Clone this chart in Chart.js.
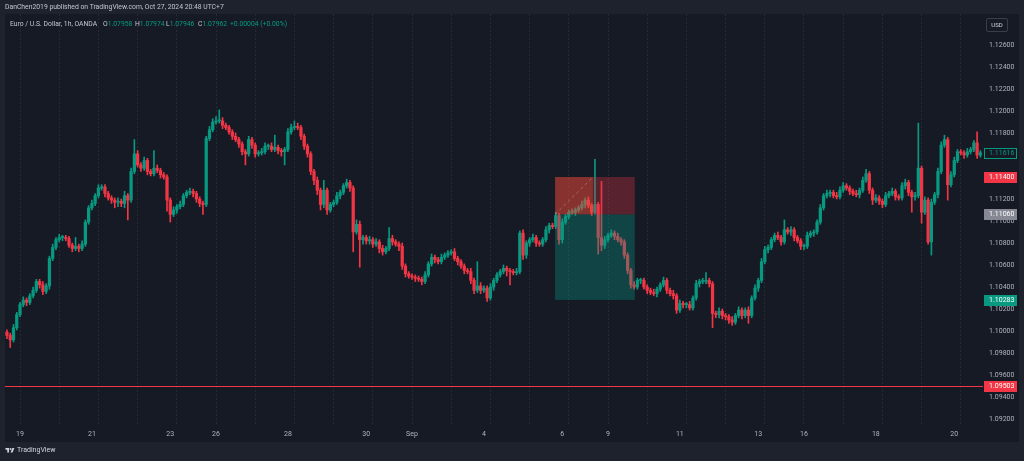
<!DOCTYPE html>
<html>
<head>
<meta charset="utf-8">
<title>EUR/USD 1h</title>
<script src="https://cdn.jsdelivr.net/npm/chart.js@4.4.1/dist/chart.umd.min.js"></script>
<style>
  html, body { margin: 0; padding: 0; background: #1e222d; }
  .frame { position: relative; width: 1024px; height: 461px; overflow: hidden; font-family: Roboto, "Noto Sans", sans-serif; }
  #chart { position: absolute; left: 0; top: 0; }
  .label { position: absolute; white-space: nowrap; line-height: 1; }
  .publisher { left: 5px; top: 4px; font-size: 6.8px; color: #c3c6ce; }
  .legend { top: 21px; font-size: 6.8px; color: #c3c6ce; }
  .legend b { font-weight: normal; color: #089981; }
  .currency { left: 986px; top: 18px; width: 20px; height: 12px; border: 1px solid #3a3e4a; border-radius: 2px; font-size: 6px; color: #d1d4dc; text-align: center; line-height: 12px; }
  .brand { left: 5px; top: 447px; font-size: 7px; color: #d1d4dc; display: flex; align-items: center; gap: 2px; }
</style>
</head>
<body>
<div class="frame">
  <canvas id="chart" width="1024" height="461"></canvas>
  <div class="label publisher">DanChen2019 published on TradingView.com, Oct 27, 2024 20:48 UTC+7</div>
  <div class="label legend" style="left:10px">Euro / U.S. Dollar, 1h, OANDA</div>
  <div class="label legend" style="left:103px">O<b>1.07958</b></div>
  <div class="label legend" style="left:135px">H<b>1.07974</b></div>
  <div class="label legend" style="left:166px">L<b>1.07946</b></div>
  <div class="label legend" style="left:198px">C<b>1.07962</b></div>
  <div class="label legend" style="left:230px"><b>+0.00004 (+0.00%)</b></div>
  <div class="label currency">USD</div>
  <div class="label brand">
    <svg width="10" height="7" viewBox="0 0 36 28"><path d="M14 22H7V11H0V4h14v18z" fill="#d1d4dc"/><circle cx="20" cy="8" r="4" fill="#d1d4dc"/><path d="M28 22h-8l7.5-18h8L28 22z" fill="#d1d4dc"/></svg>
    <span>TradingView</span>
  </div>
</div>
<script>
const upColor = '#089981';
const downColor = '#f23645';
const pip = 0.0001;

// 2h candles, index 0 = start of the "19" session, 12 candles per trading day
const firstOpen = 1.0999;
const startIndex = -4;

const closes = [
  1.0996, 1.0992, 1.1003, 1.1015,
  1.1024, 1.1028, 1.1026, 1.1032, 1.1037, 1.1045, 1.1042, 1.1036, 1.1041, 1.1066, 1.1076, 1.1083,
  1.1085, 1.1085, 1.1084, 1.1078, 1.1075, 1.1077, 1.1075, 1.1079, 1.1099, 1.1112, 1.1116, 1.1123,
  1.1130, 1.1131, 1.1125, 1.1121, 1.1119, 1.1117, 1.1118, 1.1116, 1.1123, 1.1119, 1.1145, 1.1161,
  1.1151, 1.1148, 1.1155, 1.1145, 1.1143, 1.1148, 1.1146, 1.1142, 1.1140, 1.1119, 1.1106, 1.1110,
  1.1113, 1.1115, 1.1123, 1.1126, 1.1127, 1.1125, 1.1120, 1.1116, 1.1115, 1.1175, 1.1183, 1.1190,
  1.1191, 1.1191, 1.1187, 1.1185, 1.1181, 1.1177, 1.1174, 1.1170, 1.1163, 1.1161, 1.1174, 1.1169,
  1.1161, 1.1162, 1.1163, 1.1168, 1.1168, 1.1165, 1.1167, 1.1164, 1.1163, 1.1165, 1.1181, 1.1185,
  1.1186, 1.1185, 1.1177, 1.1168, 1.1161, 1.1145, 1.1137, 1.1128, 1.1115, 1.1128, 1.1110, 1.1115,
  1.1117, 1.1123, 1.1126, 1.1132, 1.1135, 1.1130, 1.1090, 1.1097, 1.1083, 1.1085, 1.1082, 1.1083,
  1.1079, 1.1081, 1.1075, 1.1072, 1.1075, 1.1084, 1.1081, 1.1079, 1.1077, 1.1059, 1.1052, 1.1050,
  1.1049, 1.1048, 1.1047, 1.1045, 1.1051, 1.1061, 1.1067, 1.1065, 1.1063, 1.1067, 1.1069, 1.1071,
  1.1072, 1.1066, 1.1063, 1.1059, 1.1055, 1.1054, 1.1046, 1.1037, 1.1041, 1.1037, 1.1039, 1.1030,
  1.1040, 1.1046, 1.1051, 1.1054, 1.1057, 1.1055, 1.1054, 1.1053, 1.1054, 1.1089, 1.1069, 1.1080,
  1.1083, 1.1085, 1.1080, 1.1079, 1.1083, 1.1092, 1.1096, 1.1095, 1.1105, 1.1083, 1.1099, 1.1104,
  1.1108, 1.1108, 1.1110, 1.1112, 1.1115, 1.1119, 1.1114, 1.1108, 1.1115, 1.1085, 1.1078, 1.1083,
  1.1087, 1.1089, 1.1086, 1.1083, 1.1081, 1.1069, 1.1055, 1.1042, 1.1040, 1.1046, 1.1046, 1.1040,
  1.1037, 1.1035, 1.1034, 1.1038, 1.1042, 1.1046, 1.1037, 1.1034, 1.1032, 1.1019, 1.1025, 1.1024,
  1.1024, 1.1021, 1.1030, 1.1043, 1.1045, 1.1045, 1.1046, 1.1043, 1.1016, 1.1015, 1.1018, 1.1014,
  1.1013, 1.1010, 1.1008, 1.1014, 1.1019, 1.1014, 1.1019, 1.1014, 1.1030, 1.1039, 1.1046, 1.1063,
  1.1074, 1.1076, 1.1083, 1.1087, 1.1085, 1.1081, 1.1092, 1.1090, 1.1092, 1.1085, 1.1082, 1.1077,
  1.1077, 1.1087, 1.1089, 1.1090, 1.1099, 1.1112, 1.1123, 1.1125, 1.1126, 1.1123, 1.1122, 1.1128,
  1.1132, 1.1130, 1.1127, 1.1125, 1.1124, 1.1128, 1.1137, 1.1143, 1.1128, 1.1119, 1.1121, 1.1118,
  1.1115, 1.1123, 1.1125, 1.1127, 1.1122, 1.1121, 1.1132, 1.1135, 1.1126, 1.1122, 1.1123, 1.1148,
  1.1108, 1.1119, 1.1081, 1.1117, 1.1124, 1.1145, 1.1169, 1.1174, 1.1133, 1.1142, 1.1155, 1.1163,
  1.1162, 1.1160, 1.1163, 1.1165, 1.1171, 1.1160, 1.1162
];

// wick lengths in pips above / below the body
const upWick = [
  2, 2, 3, 2,
  2, 3, 2, 2, 3, 2, 2, 3, 2, 2, 3, 2,
  3, 2, 2, 2, 2, 8, 2, 3, 2, 2, 3, 2,
  3, 2, 2, 2, 2, 2, 3, 2, 4, 2, 3, 13,
  3, 2, 3, 2, 2, 16, 3, 2, 2, 2, 2, 3,
  2, 3, 2, 2, 3, 2, 2, 2, 2, 2, 3, 3,
  4, 10, 3, 2, 2, 2, 3, 2, 2, 2, 3, 2,
  2, 2, 3, 3, 2, 3, 11, 2, 2, 2, 3, 3,
  5, 3, 2, 2, 2, 2, 2, 3, 2, 9, 2, 2,
  2, 3, 2, 2, 3, 2, 2, 4, 3, 2, 2, 3,
  2, 3, 2, 3, 2, 10, 3, 2, 2, 3, 2, 2,
  2, 2, 2, 2, 3, 2, 3, 2, 2, 3, 2, 2,
  2, 3, 2, 2, 2, 2, 3, 2, 22, 3, 2, 2,
  3, 2, 2, 2, 3, 2, 2, 2, 3, 2, 3, 2,
  2, 3, 2, 2, 2, 3, 2, 2, 3, 2, 3, 2,
  2, 3, 2, 2, 3, 2, 3, 2, 41, 2, 51, 3,
  2, 3, 2, 3, 2, 2, 2, 2, 3, 2, 2, 2,
  2, 2, 3, 2, 2, 3, 2, 2, 3, 2, 3, 2,
  2, 3, 2, 3, 2, 3, 7, 2, 2, 2, 3, 2,
  2, 2, 3, 2, 3, 2, 2, 3, 2, 3, 2, 3,
  3, 2, 2, 2, 3, 2, 9, 2, 3, 2, 2, 2,
  2, 3, 2, 2, 2, 3, 2, 3, 2, 2, 3, 3,
  3, 2, 2, 2, 3, 2, 3, 4, 2, 2, 3, 2,
  2, 3, 2, 3, 2, 2, 3, 3, 2, 2, 3, 41,
  2, 3, 2, 3, 2, 3, 3, 4, 2, 3, 3, 2,
  2, 2, 3, 2, 2, 10, 2
];

const downWick = [
  3, 7, 2, 2,
  2, 2, 3, 2, 2, 2, 3, 3, 2, 3, 2, 2,
  2, 3, 2, 2, 3, 2, 3, 2, 2, 2, 2, 2,
  2, 2, 3, 2, 3, 5, 4, 3, 4, 18, 2, 2,
  2, 3, 2, 3, 2, 2, 2, 3, 2, 10, 7, 2,
  3, 2, 2, 2, 2, 3, 3, 3, 9, 2, 2, 2,
  2, 2, 3, 2, 2, 3, 2, 3, 3, 10, 2, 3,
  3, 2, 2, 2, 3, 2, 2, 3, 4, 12, 2, 2,
  2, 2, 3, 3, 3, 3, 4, 4, 5, 3, 4, 2,
  2, 2, 3, 2, 2, 3, 18, 2, 25, 4, 3, 3,
  3, 2, 4, 3, 2, 2, 3, 2, 4, 3, 3, 2,
  2, 3, 2, 3, 2, 2, 2, 3, 2, 2, 2, 2,
  2, 2, 3, 2, 3, 2, 3, 3, 2, 3, 2, 3,
  2, 3, 2, 2, 2, 5, 12, 2, 2, 2, 4, 3,
  3, 2, 3, 2, 2, 2, 3, 2, 2, 4, 3, 2,
  2, 2, 3, 2, 2, 3, 2, 3, 2, 15, 5, 3,
  2, 2, 3, 2, 3, 3, 3, 3, 2, 2, 3, 2,
  3, 2, 2, 3, 2, 2, 3, 2, 3, 3, 2, 3,
  3, 2, 2, 2, 3, 2, 2, 3, 13, 3, 3, 3,
  3, 3, 3, 2, 2, 3, 2, 7, 2, 2, 3, 2,
  2, 3, 2, 2, 2, 3, 2, 2, 3, 3, 2, 3,
  3, 2, 2, 3, 2, 2, 2, 2, 3, 2, 2, 2,
  2, 2, 3, 2, 2, 3, 2, 2, 3, 4, 2, 3,
  3, 2, 2, 2, 3, 2, 2, 3, 3, 14, 3, 2,
  10, 2, 2, 12, 2, 3, 2, 2, 14, 2, 2, 2,
  2, 3, 2, 2, 2, 3, 2
];

const dayGrid = [0, 12, 24, 36, 48, 60, 72, 84, 96, 108, 120, 132, 144, 156, 168, 180, 192, 204, 216, 228, 240, 252, 264, 276, 288];
const dateTicks = [0, 22, 46, 60, 82, 106, 120, 142, 166, 180, 202, 226, 240, 262, 286];
const dateLabels = ['19', '21', '23', '26', '28', '30', 'Sep', '4', '6', '9', '11', '13', '16', '18', '20'];
const priceTicks = [1.092, 1.094, 1.096, 1.098, 1.100, 1.102, 1.104, 1.106, 1.108, 1.110, 1.112, 1.114, 1.116, 1.118, 1.120, 1.122, 1.124, 1.126];

const lastPrice = 1.11616;
const entryPrice = 1.1106;
const stopPrice = 1.114;
const targetPrice = 1.10283;
const alertPrice = 1.09503;
const positionStart = 163.8;
const positionTouch = 175.4;
const positionEnd = 188.2;

const opens = closes.map((c, i) => (i === 0 ? firstOpen : closes[i - 1]));
const highs = closes.map((c, i) => Math.max(opens[i], c) + upWick[i] * pip);
const lows = closes.map((c, i) => Math.min(opens[i], c) - downWick[i] * pip);
const candleColors = closes.map((c, i) => (c >= opens[i] ? upColor : downColor));

const wickData = closes.map((c, i) => ({ x: startIndex + i, y: [lows[i], highs[i]] }));
const bodyData = closes.map((c, i) => ({ x: startIndex + i, y: [opens[i], c] }));

const paneBackground = {
  id: 'paneBackground',
  beforeDraw(chart) {
    const ctx = chart.ctx;
    ctx.save();
    ctx.fillStyle = '#1e222d';
    ctx.fillRect(0, 0, chart.width, chart.height);
    ctx.fillStyle = '#161a25';
    ctx.fillRect(5, 14, 1014, 428);
    ctx.restore();
  }
};

const positionTool = {
  id: 'positionTool',
  afterDatasetsDraw(chart) {
    const { ctx, chartArea, scales: { x, y } } = chart;
    const x0 = x.getPixelForValue(positionStart);
    const x1 = x.getPixelForValue(positionTouch);
    const x2 = x.getPixelForValue(positionEnd);
    const yStop = y.getPixelForValue(stopPrice);
    const yEntry = y.getPixelForValue(entryPrice);
    const yTarget = y.getPixelForValue(targetPrice);
    ctx.save();
    ctx.fillStyle = 'rgba(240, 72, 58, 0.52)';
    ctx.fillRect(x0, yStop, x1 - x0, yEntry - yStop);
    ctx.fillStyle = 'rgba(242, 54, 69, 0.3)';
    ctx.fillRect(x1, yStop, x2 - x1, yEntry - yStop);
    ctx.fillStyle = 'rgba(8, 153, 129, 0.35)';
    ctx.fillRect(x0, yEntry, x2 - x0, yTarget - yEntry);
    ctx.setLineDash([3, 3]);
    ctx.lineWidth = 1;
    ctx.strokeStyle = 'rgba(180, 180, 190, 0.45)';
    ctx.beginPath();
    ctx.moveTo(x0, yEntry);
    ctx.lineTo(x1, yStop);
    ctx.stroke();
    ctx.setLineDash([]);
    const yAlert = Math.round(y.getPixelForValue(alertPrice)) + 0.5;
    ctx.strokeStyle = downColor;
    ctx.beginPath();
    ctx.moveTo(chartArea.left, yAlert);
    ctx.lineTo(chartArea.right, yAlert);
    ctx.stroke();
    ctx.restore();
  }
};

const priceTags = {
  id: 'priceTags',
  afterDraw(chart) {
    const { ctx, chartArea, scales: { y } } = chart;
    const tags = [
      { price: lastPrice, fill: '#161a25', border: upColor, text: upColor },
      { price: stopPrice, fill: downColor, text: '#ffffff' },
      { price: entryPrice, fill: '#868993', text: '#ffffff' },
      { price: targetPrice, fill: upColor, text: '#ffffff' },
      { price: alertPrice, fill: downColor, text: '#ffffff' }
    ];
    ctx.save();
    ctx.font = '7px Roboto';
    ctx.textAlign = 'left';
    ctx.textBaseline = 'middle';
    tags.forEach(t => {
      const cy = Math.round(y.getPixelForValue(t.price));
      const left = chartArea.right + 1;
      ctx.fillStyle = t.fill;
      ctx.fillRect(left, cy - 5, 33, 11);
      if (t.border) {
        ctx.strokeStyle = t.border;
        ctx.lineWidth = 1;
        ctx.strokeRect(left + 0.5, cy - 4.5, 32, 10);
      }
      ctx.fillStyle = t.text;
      ctx.fillText(t.price.toFixed(5), left + 5, cy + 0.5);
    });
    ctx.restore();
  }
};

new Chart(document.getElementById('chart'), {
  type: 'bar',
  data: {
    datasets: [
      {
        data: wickData,
        backgroundColor: candleColors,
        borderWidth: 0,
        grouped: false,
        barPercentage: 1,
        categoryPercentage: 1,
        maxBarThickness: 1
      },
      {
        data: bodyData,
        backgroundColor: candleColors,
        borderWidth: 0,
        grouped: false,
        barPercentage: 1,
        categoryPercentage: 1,
        maxBarThickness: 2.6,
        minBarLength: 1
      }
    ]
  },
  options: {
    responsive: false,
    animation: false,
    layout: { padding: { left: 5, top: 14, right: 5, bottom: 19 } },
    plugins: {
      legend: { display: false },
      tooltip: { enabled: false }
    },
    scales: {
      x: {
        type: 'linear',
        min: -4.6,
        max: 294.8,
        offset: false,
        afterFit: scale => { scale.height = 17; },
        afterBuildTicks: scale => {
          const values = [...new Set([...dayGrid, ...dateTicks])].sort((a, b) => a - b);
          scale.ticks = values.map(v => ({ value: v }));
        },
        grid: {
          offset: false,
          drawTicks: false,
          color: c => (c.tick && dayGrid.includes(c.tick.value) ? '#262a35' : 'rgba(0,0,0,0)')
        },
        border: { display: false, dash: [2, 2] },
        ticks: {
          autoSkip: false,
          maxRotation: 0,
          minRotation: 0,
          padding: 5,
          color: '#b2b5be',
          font: { family: 'Roboto', size: 7 },
          callback: value => {
            const k = dateTicks.indexOf(value);
            return k >= 0 ? dateLabels[k] : '';
          }
        }
      },
      y: {
        position: 'right',
        min: 1.091455,
        max: 1.128818,
        afterFit: scale => { scale.width = 36; },
        afterBuildTicks: scale => {
          scale.ticks = priceTicks.map(v => ({ value: v }));
        },
        grid: { display: false, drawTicks: false },
        border: { display: false },
        ticks: {
          padding: 6,
          color: '#b2b5be',
          font: { family: 'Roboto', size: 7 },
          callback: value => value.toFixed(5)
        }
      }
    }
  },
  plugins: [paneBackground, positionTool, priceTags]
});
</script>
</body>
</html>
